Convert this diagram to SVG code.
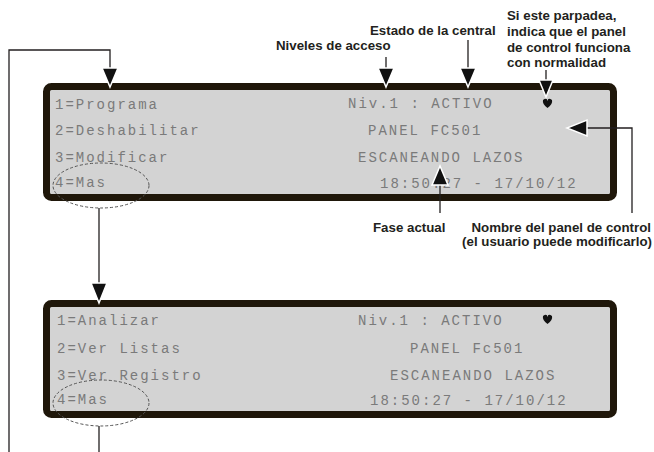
<svg xmlns="http://www.w3.org/2000/svg" width="654" height="452" viewBox="0 0 654 452">
<style>
.panel{fill:#d3d3d3;stroke:#1f170a;stroke-width:7}
.lcd{font-family:"Liberation Mono","DejaVu Sans Mono",monospace;font-size:14px;letter-spacing:2px;fill:#7a7a7a}
.ann{font-family:"Liberation Sans",Arial,sans-serif;font-size:13.3px;font-weight:bold;fill:#231f20}
.ln{fill:none;stroke:#231f20;stroke-width:1.3}
.ah{fill:#111}
.ahw{fill:#111;stroke:#fff;stroke-width:1.5}
.ell{fill:none;stroke:#555;stroke-width:1;stroke-dasharray:3 2}
.dot{fill:#111}
</style>
<g id="panel1">
<rect class="panel" x="46.5" y="86.5" width="567" height="111" rx="5"/>
<text class="lcd" x="55" y="109">1=Programa</text>
<text class="lcd" x="55" y="135">2=Deshabilitar</text>
<text class="lcd" x="55" y="162">3=Modificar</text>
<text class="lcd" x="55" y="187">4=Mas</text>
<text class="lcd" x="348" y="108">Niv.1 : ACTIVO</text>
<text class="lcd" x="368" y="135">PANEL FC501</text>
<text class="lcd" x="358" y="162">ESCANEANDO LAZOS</text>
<text class="lcd" x="380" y="188">18:50:27 - 17/10/12</text>
<path class="dot" d="M543 100 q4-3 4.5 1 q0.5-4 4.5-1 q1 4-4.5 8 q-5.5-4-4.5-8z"/>
<ellipse class="ell" cx="101" cy="185.5" rx="48" ry="22.5"/>
</g>
<g id="panel2">
<rect class="panel" x="46.5" y="303.5" width="567" height="111" rx="5"/>
<text class="lcd" x="57" y="325">1=Analizar</text>
<text class="lcd" x="57" y="353">2=Ver Listas</text>
<text class="lcd" x="57" y="380">3=Ver Registro</text>
<text class="lcd" x="57" y="404">4=Mas</text>
<text class="lcd" x="358" y="325">Niv.1 : ACTIVO</text>
<text class="lcd" x="410" y="353">PANEL Fc501</text>
<text class="lcd" x="390" y="380">ESCANEANDO LAZOS</text>
<text class="lcd" x="370" y="405">18:50:27 - 17/10/12</text>
<path class="dot" d="M543 316 q4-3 4.5 1 q0.5-4 4.5-1 q1 4-4.5 8 q-5.5-4-4.5-8z"/>
<ellipse class="ell" cx="101" cy="403" rx="48" ry="23"/>
</g>
<g id="annotations">
<text class="ann" x="276" y="50">Niveles de acceso</text>
<text class="ann" x="370" y="35">Estado de la central</text>
<text class="ann" x="507" y="20">Si este parpadea,</text>
<text class="ann" x="507" y="36">indica que el panel</text>
<text class="ann" x="507" y="52">de control funciona</text>
<text class="ann" x="507" y="67">con normalidad</text>
<text class="ann" x="373" y="232">Fase actual</text>
<text class="ann" x="651" y="232" text-anchor="end">Nombre del panel de control</text>
<text class="ann" x="652" y="246" text-anchor="end">(el usuario puede modificarlo)</text>
</g>
<g id="connectors">
<polyline class="ln" points="9,452 9,50 110,50 110,70"/>
<polygon class="ahw" points="102,68 118,68 110,87"/>
<line class="ln" x1="99" y1="208" x2="99" y2="285"/>
<polygon class="ahw" points="91,283 107,283 99,303"/>
<line class="ln" x1="99" y1="426" x2="99" y2="452"/>
<line class="ln" x1="386" y1="57" x2="386" y2="70"/>
<polygon class="ahw" points="378,68 394,68 386,87"/>
<line class="ln" x1="468" y1="40" x2="468" y2="70"/>
<polygon class="ahw" points="460,68 476,68 468,87"/>
<line class="ln" x1="546" y1="70" x2="546" y2="82"/>
<polygon class="ahw" points="539,80 553,80 546,97"/>
<line class="ln" x1="440" y1="213" x2="440" y2="183"/>
<polygon class="ahw" points="432,185 448,185 440,166"/>
<polyline class="ln" points="632,213 632,128 585,128"/>
<polygon class="ahw" points="587,120 587,136 567,128"/>
</g>
</svg>
